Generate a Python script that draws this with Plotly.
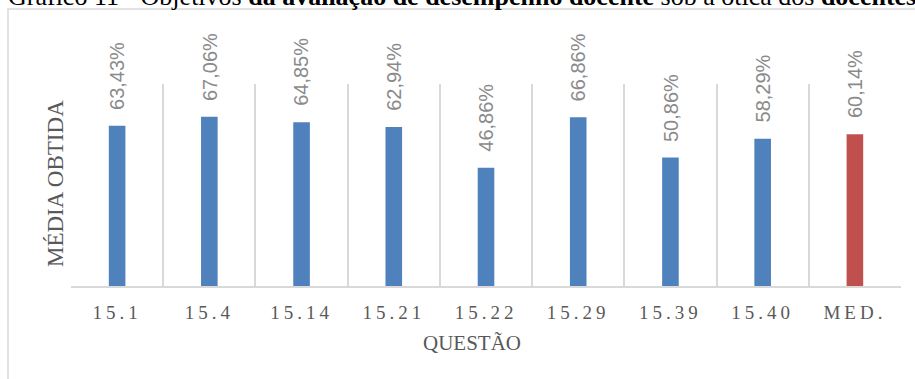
import plotly.graph_objects as go

categories = ["15.1", "15.4", "15.14", "15.21", "15.22", "15.29", "15.39", "15.40", "MED."]
values = [63.43, 67.06, 64.85, 62.94, 46.86, 66.86, 50.86, 58.29, 60.14]
bar_colors = ["#4F81BD"] * 8 + ["#C0504D"]
value_labels = [f"{v:.2f}".replace(".", ",") + "%" for v in values]

title_text = ("Gráfico 11 - Objetivos <b>da avaliação de desempenho docente</b> "
              "sob a ótica dos <b>docentes</b>")
x_title = "QUESTÃO"
y_title = "MÉDIA OBTIDA"

W, H = 915, 379
L, R, T, B = 71, 14, 84, 93
PW, PH = W - L - R, H - T - B

def px_x(p):
    return (p - L) / PW

def px_y(p):
    return 1 + (T - p) / PH

fig = go.Figure()
fig.add_trace(go.Bar(
    x=categories, y=values, width=0.18,
    marker=dict(color=bar_colors, line=dict(width=0)),
    hoverinfo="skip",
))

annotations = []
for i, (v, lab) in enumerate(zip(values, value_labels)):
    annotations.append(dict(
        x=i, y=v, xref="x", yref="y", text=lab, showarrow=False,
        textangle=-90, yanchor="bottom", xanchor="center", yshift=14,
        font=dict(family="Liberation Sans", size=20, color="#8a8a8a"),
    ))

annotations.append(dict(
    x=px_x(472), y=px_y(343), xref="paper", yref="paper", text=x_title,
    showarrow=False, xanchor="center", yanchor="middle",
    font=dict(family="Liberation Serif", size=21, color="#595959"),
))
annotations.append(dict(
    x=px_x(55), y=px_y(184), xref="paper", yref="paper", text=y_title,
    showarrow=False, xanchor="center", yanchor="middle", textangle=-90,
    font=dict(family="Liberation Serif", size=23, color="#595959"),
))
annotations.append(dict(
    x=px_x(6), y=px_y(-4), xref="paper", yref="paper", text=title_text,
    showarrow=False, xanchor="left", yanchor="middle",
    font=dict(family="Liberation Serif", size=26, color="#000000"),
))

fig.update_layout(
    width=W, height=H,
    margin=dict(l=L, r=R, t=T, b=B),
    paper_bgcolor="white", plot_bgcolor="white",
    showlegend=False,
    annotations=annotations,
    shapes=[dict(
        type="rect", xref="paper", yref="paper",
        x0=px_x(8), x1=px_x(1100), y0=px_y(9), y1=px_y(600),
        line=dict(color="#d9d9d9", width=1.5), layer="below",
    )],
    xaxis=dict(
        type="category", range=[-0.5, 8.5], tickson="boundaries",
        showgrid=True, gridcolor="#d9d9d9", gridwidth=1.5,
        showline=True, linecolor="#d9d9d9", linewidth=1.5,
        ticks="", ticklabelstandoff=8,
        tickfont=dict(family="Liberation Serif", size=19, color="#595959"),
    ),
    yaxis=dict(
        range=[0, 80], showgrid=False, zeroline=False, showline=False,
        showticklabels=False, ticks="",
    ),
)

js = ("function sp(){document.querySelectorAll('.xtick text').forEach(function(t){"
      "t.style.letterSpacing='4px';});}sp();setTimeout(sp,50);setTimeout(sp,300);")
fig.write_html("out.html", post_script=js)
